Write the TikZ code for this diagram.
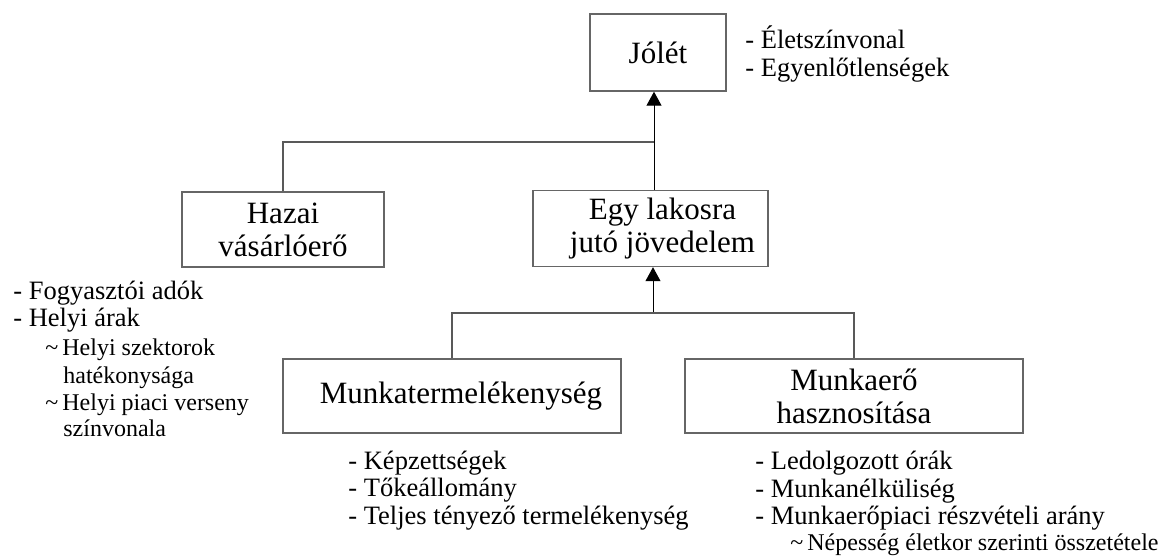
\documentclass[tikz,border=0pt]{standalone}
\usepackage{fontspec}
\setmainfont{Liberation Serif}
\usetikzlibrary{positioning, arrows.meta, calc}
\newcommand{\dobozfont}{\fontsize{15.5}{16.4}\selectfont}
\newcommand{\listafont}{\fontsize{13.25}{13.7}\selectfont}
\newcommand{\alfont}{\fontsize{12}{13}\selectfont}
\tikzset{doboz/.style={rectangle,draw=black!60,line width=0.7pt,align=center,font=\dobozfont},
	lista/.style={align=left,font=\listafont,inner sep=0,anchor=base west},
	vonal/.style={draw=black!65,line width=0.6pt},
	nyil/.style={draw=black,line width=0.5pt,-{Triangle[width=7.5pt,length=7pt]}} }

\begin{document}
\begin{tikzpicture}
	[x=0.5pt, y=-0.5pt]

  \useasboundingbox (0,0) rectangle (1162,557);

  \node (jolet) [doboz, minimum width=68pt, minimum height=38.5pt] at (658,52.5) {Jólét};
  \node (haz) [doboz, minimum width=101pt, minimum height=37.5pt] at (283,229.5) {Hazai\\vásárlóerő};
  \node (egy) [doboz, minimum width=117.5pt, minimum height=38pt] at (650.5,228.5)
  	{\hspace*{12pt}Egy lakosra\\\hspace*{12pt}jutó jövedelem};
  \node (mt) [doboz, minimum width=169pt, minimum height=37pt] at (452,396)
  	{\hspace*{9pt}Munkatermelékenység};
  \node (me) [doboz, minimum width=169pt, minimum height=37pt] at (854,396) {Munkaerő\\hasznosítása};

  % csatlakozasi pontok
  \coordinate (j1) at ($(egy.north |- 0,142)+(3.5,0)$);
  \coordinate (j2) at ($(egy.south |- 0,313)+(2.5,0)$);

  \draw [nyil] (j1 |- egy.north) -- (j1 |- jolet.south);
  \draw [vonal] (haz.north) |- (j1);
  \draw [nyil] (j2) -- (j2 |- egy.south);
  \draw [vonal] (mt.north) |- (j2) -| (me.north);

  % a listak alapvonala az utolso sornal van
  \node (jlista) [lista] at (745,76) {- Életszínvonal\\- Egyenlőtlenségek};
  \node (hlista) [lista] at (13,436)
  	{- Fogyasztói adók\\- Helyi árak\\[1pt]
  	 \hspace*{16pt}{\alfont\textasciitilde\,Helyi szektorok}\\
  	 \hspace*{25pt}{\alfont hatékonysága}\\
  	 \hspace*{16pt}{\alfont\textasciitilde\,Helyi piaci verseny}\\[-1pt]
  	 \hspace*{25pt}{\alfont színvonala}};
  \node (mtlista) [lista] at (348,524) {- Képzettségek\\- Tőkeállomány\\- Teljes tényező termelékenység};
  \node (melista) [lista] at (755,550)
  	{- Ledolgozott órák\\- Munkanélküliség\\- Munkaerőpiaci részvételi arány\\[-1pt]
  	 \hspace*{17.5pt}{\alfont\textasciitilde\,Népesség életkor szerinti összetétele}};
\end{tikzpicture}
\end{document}
